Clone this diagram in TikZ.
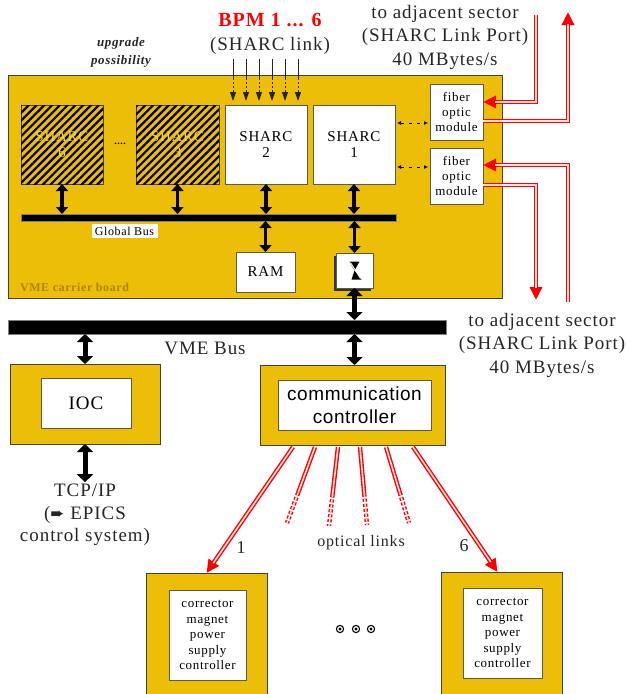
\documentclass[tikz,border=0pt]{standalone}
\usepackage{fontspec}
\setmainfont{Liberation Serif}[LetterSpace=5]
\newfontfamily\helv{Liberation Sans}[LetterSpace=3]
\newfontfamily\djv{DejaVu Sans}
\usetikzlibrary{arrows.meta,patterns.meta,calc,shadows}
\definecolor{gold}{RGB}{236,190,8}
\definecolor{golddark}{RGB}{176,132,0}
\definecolor{goldtext}{RGB}{250,214,60}
\definecolor{pinkcore}{RGB}{255,225,225}
\newcommand{\fsz}[2]{\fontsize{#1}{#2}\selectfont}
\newcommand{\redarr}[1]{%
  \draw[redouter, -{Triangle[length=13pt,width=12pt]}] #1;
  \draw[redinner, shorten >=12pt] #1;}
\newcommand{\redln}[1]{%
  \draw[redouter] #1;
  \draw[redinner] #1;}
\newcommand{\reddot}[1]{%
  \draw[redouter, dash pattern=on 3pt off 2pt] #1;
  \draw[redinner, dash pattern=on 3pt off 2pt] #1;}
\begin{document}
\begin{tikzpicture}[x=1pt,y=-1pt,
  every node/.style={inner sep=0pt, outer sep=0pt},
  board/.style={draw=black!75, fill=gold, line width=1pt, anchor=north west},
  inbox/.style={draw=black!65, fill=white, line width=1pt, anchor=north west, align=center},
  hatchbox/.style={draw=black!75, fill=gold, line width=1pt, anchor=north west, align=center, text=goldtext,
     postaction={pattern={Lines[angle=45,distance=5.5pt,line width=2.2pt]}, pattern color=black}},
  bar/.style={fill=black, draw=black!50, anchor=north west},
  dbl/.style={{Triangle[length=7pt,width=12pt]}-{Triangle[length=7pt,width=12pt]}, line width=3.5pt},
  dblbig/.style={{Triangle[length=8pt,width=16pt]}-{Triangle[length=8pt,width=16pt]}, line width=5pt},
  smallarr/.style={{Latex[length=4pt,width=4pt]}-{Latex[length=4pt,width=4pt]}, dash pattern=on 3pt off 5pt, line width=1pt},
  redouter/.style={draw=red, line width=4.4pt},
  redinner/.style={draw=pinkcore, line width=1.6pt},
  txt/.style={align=center, text=black!85},
]
\useasboundingbox (0,0) rectangle (625,694);

% ---------- top texts ----------
\node[txt, font=\bfseries\fsz{20}{24}, text=red] (bpm) at (270,20) {BPM 1 ... 6};
\node[txt, font=\fsz{19}{23}] (slink) at (270,46) {(SHARC link)};
\node[txt, font=\bfseries\itshape\fsz{13}{18}] (upg) at (121,52) {upgrade\\possibility};
\node[txt, font=\fsz{19}{23.5}] (adjT) at (445,37) {to adjacent sector\\(SHARC Link Port)\\40 MBytes/s};
\node[txt, font=\fsz{19}{23.5}] (adjB) at (542,345) {to adjacent sector\\(SHARC Link Port)\\40 MBytes/s};

% ---------- carrier board ----------
\node[board, minimum width=494pt, minimum height=223pt] (carrier) at (8,75) {};
\node[anchor=west, font=\bfseries\fsz{12}{14}, text=golddark] (cbl) at (20,287) {VME carrier board};

\node[hatchbox, minimum width=82pt, minimum height=79pt, font=\fsz{15}{16}] (s6) at (21,105) {SHARC\\6};
\node[hatchbox, minimum width=83pt, minimum height=79pt, font=\fsz{15}{16}] (s3) at (136,105) {SHARC\\3};
\node[inbox, minimum width=82pt, minimum height=79pt, font=\fsz{15}{16}] (s2) at (225,105) {SHARC\\2};
\node[inbox, minimum width=82pt, minimum height=79pt, font=\fsz{15}{16}] (s1) at (313,105) {SHARC\\1};
\node[font=\bfseries\fsz{10}{12}] (dots) at (120,144) {....};

\node[inbox, minimum width=53pt, minimum height=56pt, font=\fsz{13}{15}] (f1) at (430,84) {fiber\\optic\\module};
\node[inbox, minimum width=53pt, minimum height=56pt, font=\fsz{13}{15}] (f2) at (430,148) {fiber\\optic\\module};

\node[bar, minimum width=375pt, minimum height=7pt] (gbus) at (21,214) {};
\node[fill=white, font=\fsz{12}{14}, minimum width=66pt, minimum height=14pt] (gbl) at (124.5,231) {Global Bus};

\node[inbox, minimum width=59pt, minimum height=40pt, font=\fsz{15}{16}] (ram) at (236,252) {RAM};
\node[inbox, minimum width=37pt, minimum height=35pt,
  general shadow={fill=black!80, shadow xshift=-2.5pt, shadow yshift=-2.5pt}] (xb) at (336,253) {};
\fill[black] ($(xb.center)+(-5,-9)$) -- ++(10,0) -- ($(xb.center)+(0,0)$) -- cycle;
\fill[black] ($(xb.center)+(-3,9)$) -- ++(10,0) -- ($(xb.center)+(0,0)$) -- cycle;
\draw[white, line width=0.9pt] ($(xb.center)+(-4,-8)$) -- ($(xb.center)+(6,8)$);

% board arrows
\draw[dbl] (s6.south) -- (s6.south |- gbus.north);
\draw[dbl] (s3.south) -- (s3.south |- gbus.north);
\draw[dbl] (s2.south) -- (s2.south |- gbus.north);
\draw[dbl] (s1.south) -- (s1.south |- gbus.north);
\draw[dbl] (ram.north |- gbus.south) -- (ram.north);
\draw[dbl] (xb.north |- gbus.south) -- (xb.north);

% SHARC1 <-> fiber
\coordinate (ya) at (0,123);
\coordinate (yb) at (0,167);
\draw[smallarr] ($(s1.east |- ya)+(2,0)$) -- ($(f1.west |- ya)+(-2,0)$);
\draw[smallarr] ($(s1.east |- yb)+(2,0)$) -- ($(f2.west |- yb)+(-2,0)$);

% BPM inputs
\foreach \x [count=\i] in {233,246,259,272,285,298} {
  \coordinate (bt\i) at (\x,59);
  \coordinate (bm\i) at (\x,78);
  \draw[black!85, line width=1pt] (bt\i) -- (bm\i);
  \draw[black!85, line width=1pt, dash pattern=on 2pt off 2pt, -{Triangle[length=9pt,width=6pt]}, shorten >=4pt] (bm\i) -- (s2.north -| bt\i);
}

% red links to adjacent sector
\coordinate (inA) at (536,15);
\coordinate (yA) at (0,102);
\coordinate (outB) at (568,12);
\coordinate (yB) at (0,121);
\coordinate (inC) at (568,302);
\coordinate (yC) at (0,165);
\coordinate (outD) at (536,300);
\coordinate (yD) at (0,185);
\redarr{(inA) |- (f1.east |- yA)}
\redarr{(f1.east |- yB) -| (outB)}
\redarr{(inC) |- (f2.east |- yC)}
\redarr{(f2.east |- yD) -| (outD)}

% ---------- VME bus ----------
\node[bar, minimum width=438pt, minimum height=14pt] (vme) at (8,320) {};
\node[txt, font=\fsz{19}{23}] (vmel) at (205,348) {VME Bus};

\node[board, minimum width=150pt, minimum height=80pt] (ioc) at (10,364) {};
\node[inbox, minimum width=90pt, minimum height=50pt, font=\fsz{19}{23}] (iocin) at (41,378) {IOC};
\node[txt, font=\fsz{19}{22.5}] (tcp) at (85,515) {TCP/IP\\({\djv\fsz{17}{22.5}➨} EPICS\\control system)};

\node[board, minimum width=185pt, minimum height=80pt] (comm) at (260,365) {};
\node[inbox, minimum width=153pt, minimum height=50pt, font=\helv\fsz{19}{23}] (commin) at (278,380) {communication\\controller};

\draw[dblbig] (xb.south) -- (xb.south |- vme.north);
\draw[dblbig] (xb.south |- vme.south) -- (xb.south |- comm.north);
\draw[dblbig] (ioc.north |- vme.south) -- (ioc.north);
\draw[dblbig] (ioc.south) -- ($(tcp.north)+(0,-2)$);

% ---------- corrector controllers ----------
\node[board, minimum width=121pt, minimum height=130pt] (c1) at (146,573) {};
\node[inbox, minimum width=77pt, minimum height=90pt, font=\fsz{13}{15.5}] (c1in) at (169,590) {corrector\\magnet\\power\\supply\\controller};
\node[board, minimum width=121pt, minimum height=130pt] (c6) at (441,572) {};
\node[inbox, minimum width=79pt, minimum height=90pt, font=\fsz{13}{15.5}] (c6in) at (463,588) {corrector\\magnet\\power\\supply\\controller};

% optical links
\foreach \dx [count=\i] in {33,55,78,100,126,153} {
  \coordinate (ls\i) at ($(comm.south west)+(\dx,2)$);
}
\coordinate (le2) at (287,523);
\coordinate (le3) at (329,526);
\coordinate (le4) at (367,525);
\coordinate (le5) at (409,523);
\foreach \i in {2,3,4,5} {
  \coordinate (lm\i) at ($(ls\i)!0.6!(le\i)$);
}
\redarr{(ls1) -- (c1.north)}
\redarr{(ls6) -- ($(c6.north)+(-4,0)$)}
\foreach \i in {2,3,4,5} {
  \redln{(ls\i) -- (lm\i)}
  \reddot{(lm\i) -- (le\i)}
}
\node[txt, font=\fsz{18}{20}] (n1) at (241,548) {1};
\node[txt, font=\fsz{18}{20}] (n6) at (464,546) {6};
\node[txt, font=\fsz{16}{18}] (optl) at (361,543) {optical links};

\foreach \x in {340,356,371} {
  \fill[black] (\x,629) circle (4.2);
  \fill[white] (\x,629) circle (2.9);
  \fill[black] (\x,629) circle (1.7);
}
\end{tikzpicture}
\end{document}
